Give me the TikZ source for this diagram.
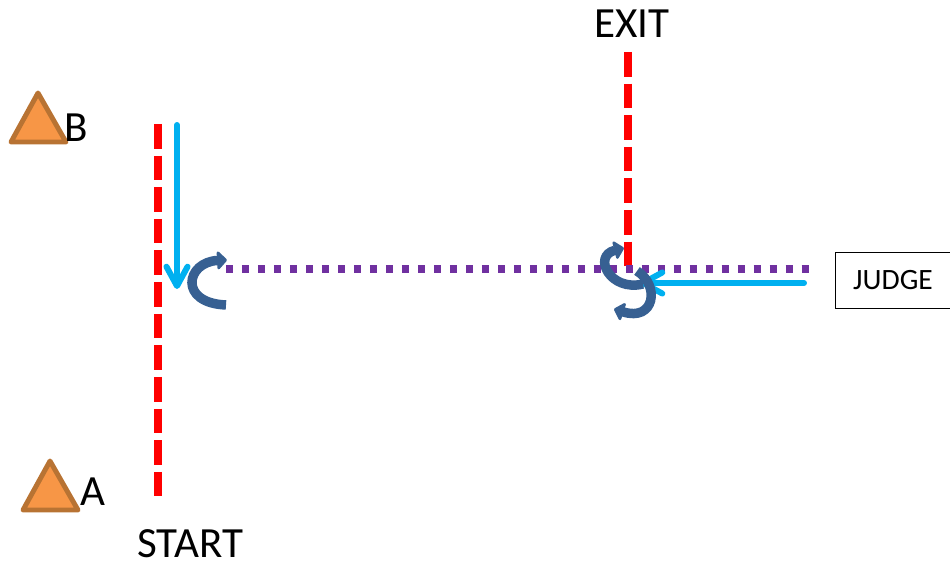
\documentclass[tikz,border=0pt]{standalone}
\usepackage{fontspec}
\setmainfont{Carlito}
\usetikzlibrary{arrows.meta}
\definecolor{lineblue}{HTML}{00B0F0}
\definecolor{turnblue}{HTML}{376092}
\definecolor{pathpurple}{HTML}{7030A0}
\definecolor{markerfill}{HTML}{F79646}
\definecolor{markerline}{HTML}{B87333}
\tikzset{
    redline/.style={draw=red, line width=4.4pt, dash pattern=on 14pt off 4pt},
    purpleline/.style={draw=pathpurple, line width=4.2pt, dash pattern=on 4.2pt off 4.9pt},
    walk/.style={draw=lineblue, line width=3.4pt, line cap=round,
        -{Straight Barb[length=11pt, width=12pt, line width=3.4pt, round]}},
    turn/.style={draw=turnblue, line width=5.4pt,
        -{Triangle[length=6pt, width=12pt, round, line join=round]}},
    marker/.style={draw=markerline, fill=markerfill, line width=2.8pt, line join=round},
    bigtext/.style={font=\fontsize{24.5}{28}\selectfont, inner sep=0pt},
    judgebox/.style={draw=black, line width=.6pt, font=\fontsize{16.8}{18}\selectfont,
        minimum width=65.5pt, minimum height=32pt, inner sep=0pt}
}
\begin{document}
\begin{tikzpicture}[x=.02cm, y=-.02cm]
    \useasboundingbox (0, 0) rectangle (950, 563);

    % markers
    \draw[marker] (38, 93) -- (66, 142) -- (11, 142) -- cycle;
    \draw[marker] (50, 461) -- (78, 510) -- (23, 510) -- cycle;
    \node[bigtext] (labelB) at (76, 128) {B};
    \node[bigtext] (labelA) at (93, 492) {A};
    \node[bigtext] (start) at (190, 544) {START};
    \node[bigtext] (exit) at (632, 24) {EXIT};
    \node[judgebox] (judge) at (893, 280.5) {JUDGE};

    % lines
    \coordinate (startTop) at (158, 124);
    \coordinate (startEnd) at (158, 500);
    \coordinate (exitTop) at (628, 52);
    \coordinate (exitEnd) at (628, 268);
    \coordinate (pathLeft) at (226, 269);
    \coordinate (pathRight) at (810, 269);
    \draw[redline] (startTop) -- (startEnd);
    \draw[redline] (exitTop) -- (exitEnd);
    \draw[purpleline] (pathLeft) -- (pathRight);

    % walking
    \coordinate (walkTop) at (177, 125);
    \coordinate (walkEnd) at (177, 289);
    \coordinate (judgeWalk) at (804, 283);
    \coordinate (judgeEnd) at (640, 283);
    \draw[walk] (walkTop) -- (walkEnd);
    \draw[walk] (judgeWalk) -- (judgeEnd);

    % turns
    \coordinate (turnA) at (226, 305);
    \coordinate (turnATip) at (227, 260);
    \coordinate (turnB) at (643, 284);
    \coordinate (turnBTip) at (624, 248);
    \coordinate (turnC) at (637, 271);
    \coordinate (turnCTip) at (614, 309);
    \draw[turn] (turnA) .. controls (178, 303) and (186, 262) .. (turnATip);
    \draw[turn] (turnB) .. controls (610, 292) and (592, 256) .. (turnBTip);
    \draw[turn] (turnC) .. controls (660, 285) and (655, 322) .. (turnCTip);
\end{tikzpicture}
\end{document}
